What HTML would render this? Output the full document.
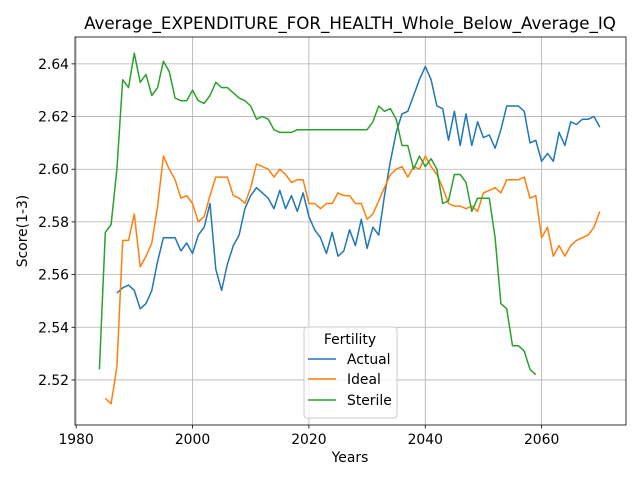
<!DOCTYPE html>
<html><head><meta charset="utf-8"><style>
body{margin:0;background:#fff}
svg{font-family:"DejaVu Sans","Liberation Sans",sans-serif}
</style></head><body>
<svg id="c" width="640" height="480" xmlns="http://www.w3.org/2000/svg"></svg>
<script>
const actualYears=[1987,2070];
const actualValues=[2.553,2.555,2.556,2.554,2.547,2.549,2.554,2.565,2.574,2.574,2.574,2.569,2.572,2.568,2.575,2.578,2.587,2.562,2.554,2.564,2.571,2.575,2.585,2.590,2.593,2.591,2.589,2.585,2.592,2.585,2.590,2.584,2.591,2.582,2.577,2.574,2.568,2.576,2.567,2.569,2.577,2.571,2.581,2.570,2.578,2.575,2.590,2.603,2.614,2.621,2.622,2.628,2.634,2.639,2.634,2.624,2.623,2.611,2.622,2.609,2.621,2.609,2.618,2.612,2.613,2.608,2.615,2.624,2.624,2.624,2.622,2.610,2.611,2.603,2.606,2.603,2.614,2.609,2.618,2.617,2.619,2.619,2.620,2.616];
const idealYears=[1985,2070];
const idealValues=[2.513,2.511,2.525,2.573,2.573,2.583,2.563,2.567,2.572,2.586,2.605,2.600,2.596,2.589,2.590,2.587,2.580,2.582,2.590,2.597,2.597,2.597,2.590,2.589,2.587,2.593,2.602,2.601,2.600,2.597,2.600,2.598,2.595,2.596,2.596,2.587,2.587,2.585,2.587,2.587,2.591,2.590,2.590,2.587,2.587,2.581,2.583,2.588,2.593,2.598,2.600,2.601,2.597,2.601,2.600,2.605,2.601,2.598,2.593,2.587,2.586,2.586,2.585,2.586,2.584,2.591,2.592,2.593,2.591,2.596,2.596,2.596,2.597,2.589,2.590,2.574,2.578,2.567,2.571,2.567,2.571,2.573,2.574,2.575,2.578,2.584];
const sterileYears=[1984,2059];
const sterileValues=[2.524,2.576,2.579,2.600,2.634,2.631,2.644,2.633,2.636,2.628,2.631,2.641,2.637,2.627,2.626,2.626,2.630,2.626,2.625,2.628,2.633,2.631,2.631,2.629,2.627,2.626,2.624,2.619,2.620,2.619,2.615,2.614,2.614,2.614,2.615,2.615,2.615,2.615,2.615,2.615,2.615,2.615,2.615,2.615,2.615,2.615,2.615,2.618,2.624,2.622,2.623,2.619,2.609,2.609,2.600,2.605,2.601,2.604,2.600,2.587,2.588,2.598,2.598,2.595,2.584,2.589,2.589,2.589,2.574,2.549,2.547,2.533,2.533,2.531,2.524,2.522];
const xTicks=[1980,2000,2020,2040,2060];
const yTicks=[2.52,2.54,2.56,2.58,2.60,2.62,2.64];
const L=75,R=626,T=37,B=425;
const X0=1979.8,X1=2074.5,Y0=2.5029,Y1=2.6502;
const sx=v=>L+(v-X0)/(X1-X0)*(R-L);
const sy=v=>B-(v-Y0)/(Y1-Y0)*(B-T);
const svg=document.getElementById('c');
const NS='http://www.w3.org/2000/svg';
function mk(tag,attrs,parent){const e=document.createElementNS(NS,tag);for(const k in attrs)e.setAttribute(k,attrs[k]);(parent||svg).appendChild(e);return e;}
xTicks.forEach(t=>{const x=sx(t);
 const g=mk('line',{x1:x,x2:x,y1:T,y2:B,stroke:'#b0b0b0','stroke-width':0.8});
 
 
 mk('line',{x1:x,x2:x,y1:B,y2:B+3.5,stroke:'#000','stroke-width':0.8});
 const tx=mk('text',{x:x,y:B+19,'text-anchor':'middle','font-size':13.9});tx.textContent=t;
 
 });
yTicks.forEach(t=>{const y=sy(t);
 const g=mk('line',{x1:L,x2:R,y1:y,y2:y,stroke:'#b0b0b0','stroke-width':0.8});
 
 
 mk('line',{x1:L-3.5,x2:L,y1:y,y2:y,stroke:'#000','stroke-width':0.8});
 const tx=mk('text',{x:L-6,y:y+5,'text-anchor':'end','font-size':13.9});tx.textContent=t.toFixed(2);
 
 });
function series(yrs,vals,color,name){
 const pts=vals.map((v,i)=>sx(yrs[0]+i).toFixed(1)+','+sy(v).toFixed(1)).join(' ');
 const p=mk('polyline',{points:pts,fill:'none',stroke:color,'stroke-width':1.5,'stroke-linejoin':'round'});
 
 }
series(actualYears,actualValues,'#1f77b4','actual-line');
series(idealYears,idealValues,'#ff7f0e','ideal-line');
series(sterileYears,sterileValues,'#2ca02c','sterile-line');
const fr=mk('rect',{x:L,y:T,width:R-L,height:B-T,fill:'none',stroke:'#000','stroke-width':0.8});


</script>
<svg width="640" height="480" style="position:absolute;left:0;top:0" xmlns="http://www.w3.org/2000/svg">
<text x="350" y="29" text-anchor="middle" font-size="16.7" style="font-family:'DejaVu Sans',sans-serif">Average_EXPENDITURE_FOR_HEALTH_Whole_Below_Average_IQ</text>
<text x="350" y="462" text-anchor="middle" font-size="13.9" style="font-family:'DejaVu Sans',sans-serif">Years</text>
<text x="0" y="0" transform="translate(27,231) rotate(-90)" text-anchor="middle" font-size="13.9" style="font-family:'DejaVu Sans',sans-serif">Score(1-3)</text>
<g style="font-family:'DejaVu Sans',sans-serif">
<rect x="304" y="327" width="93" height="91" rx="3" fill="#fff" fill-opacity="0.8" stroke="#ccc"/>
<text x="350" y="344" text-anchor="middle" font-size="13.9">Fertility</text>
<line x1="308" x2="336" y1="359" y2="359" stroke="#1f77b4" stroke-width="1.5"/>
<text x="347" y="364" font-size="13.9">Actual</text>
<line x1="308" x2="336" y1="379" y2="379" stroke="#ff7f0e" stroke-width="1.5"/>
<text x="347" y="384" font-size="13.9">Ideal</text>
<line x1="308" x2="336" y1="400" y2="400" stroke="#2ca02c" stroke-width="1.5"/>
<text x="347" y="405" font-size="13.9">Sterile</text>
</g>
</svg>
</body></html>
